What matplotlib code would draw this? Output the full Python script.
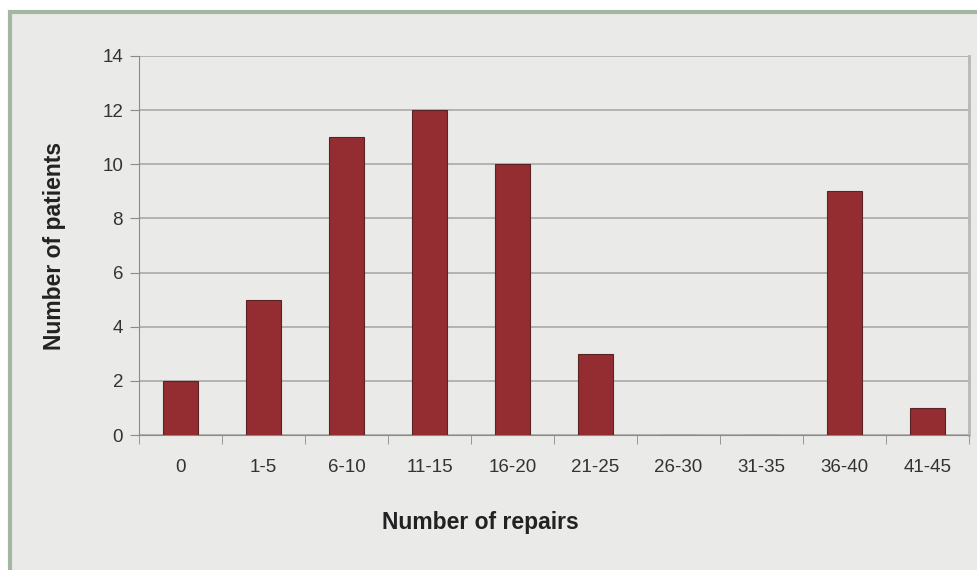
import matplotlib
matplotlib.use('Agg')
import matplotlib.pyplot as plt
from matplotlib.patches import Rectangle

# data
categories = ['0', '1-5', '6-10', '11-15', '16-20', '21-25', '26-30', '31-35', '36-40', '41-45']
patients = [2, 5, 11, 12, 10, 3, 0, 0, 9, 1]

plt.rcParams['font.family'] = ['Liberation Sans', 'DejaVu Sans']

W, H = 978, 570
fig = plt.figure(figsize=(W / 100, H / 100), dpi=100, facecolor='white')

# panel background with green-grey frame (cut off on right and bottom)
fig.patches.append(Rectangle((9.5 / W, -0.05), 1.1, 1 - 11.5 / H + 0.05,
                             transform=fig.transFigure, facecolor='#eaebe8',
                             edgecolor='#a3b7a3', linewidth=3, zorder=-10))

ax = fig.add_axes([139 / W, 1 - 435 / H, (969 - 139) / W, (435 - 56) / H])
ax.set_zorder(5)
ax.set_facecolor('#eaebe8')

x = list(range(len(categories)))
ax.bar(x, patients, width=0.41, color='#932d31', edgecolor='#5a2424', linewidth=0.8, zorder=3)

ax.set_xlim(-0.5, len(categories) - 0.5)
ax.set_ylim(0, 14)
ax.set_yticks(range(0, 15, 2))
ax.yaxis.grid(True, color='#a4a4a4', linewidth=1.1, zorder=0)

# category labels centred, tick marks between categories
ax.set_xticks(x)
ax.set_xticklabels(categories, fontsize=13.5, color='#333333')
ax.tick_params(axis='x', length=0, pad=17)
ax.set_xticks([i - 0.5 for i in range(len(categories) + 1)], minor=True)
ax.tick_params(axis='x', which='minor', length=6.5, color='#8a8a8a', direction='out')
ax.tick_params(axis='y', length=6.5, color='#8a8a8a', labelsize=13.5, labelcolor='#333333', pad=5)

ax.spines['top'].set_visible(False)
ax.spines['left'].set_color('#8a8a8a')
ax.spines['bottom'].set_color('#8a8a8a')
ax.spines['right'].set_color('#b8b8b8')
ax.spines['right'].set_linewidth(2)

ax.set_xlabel('Number of repairs', fontsize=16.5, fontweight='bold', color='#222222')
ax.set_ylabel('Number of patients', fontsize=16.5, fontweight='bold', color='#222222')
# the x title sits left of the axes centre in the reference
ax.xaxis.set_label_coords((480 - 139) / 830, (435 - 511) / 379)
ax.yaxis.set_label_coords((66 - 139) / 830, 0.5)

fig.savefig('out.png', dpi=100, facecolor=fig.get_facecolor())
